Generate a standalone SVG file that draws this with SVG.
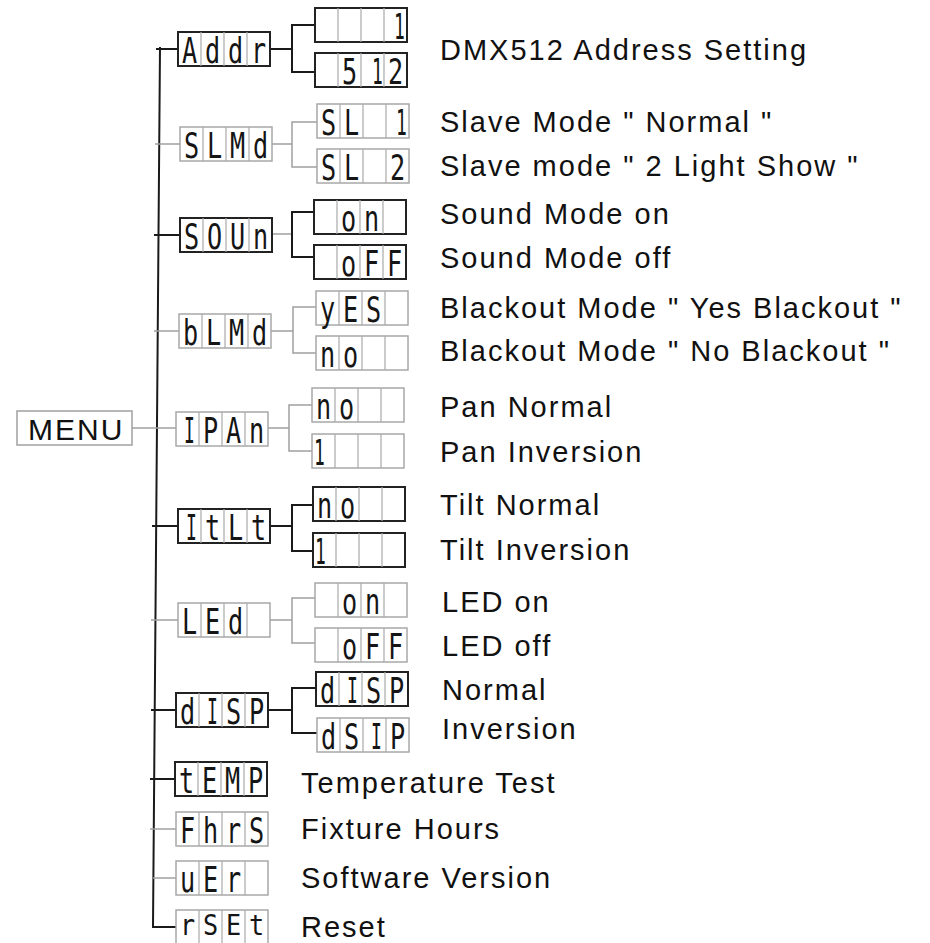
<svg xmlns="http://www.w3.org/2000/svg" xmlns:xlink="http://www.w3.org/1999/xlink" width="930" height="943" viewBox="0 0 930 943">
<style>
.bd{fill:#fff;stroke:#222;stroke-width:2}
.bl{fill:#fff;stroke:#a8a8a8;stroke-width:1.5}
.dv{stroke:#aaa;stroke-width:1.2;fill:none}
.seg{font-family:"DejaVu Sans Mono",monospace;font-size:36px;fill:#151515}
.lbl{font-family:"Liberation Sans",Arial,sans-serif;font-size:29px;fill:#111;letter-spacing:2px}
.menu{font-family:"Liberation Sans",Arial,sans-serif;font-size:30px;fill:#111;letter-spacing:2px}
.cd{stroke:#1a1a1a;stroke-width:2;fill:none}
.cl{stroke:#a0a0a0;stroke-width:1.5;fill:none}
</style>
<defs>
<path id="dv" class="dv" d="M23,0V34M46,0V34M69,0V34"/>
</defs>
<rect width="930" height="943" fill="#fff"/>
<g id="connectors">
<path class="cd" d="M160,47L153,927H176"/>
<path class="cd" d="M156,49H178"/>
<path class="cl" d="M155,144H180"/>
<path class="cd" d="M154,235H180"/>
<path class="cl" d="M154,331H179"/>
<path class="cl" d="M132,428H176"/>
<path class="cd" d="M152,526H178"/>
<path class="cl" d="M151,620H178"/>
<path class="cd" d="M151,710H176"/>
<path class="cd" d="M150,779H175"/>
<path class="cl" d="M150,829H176"/>
<path class="cl" d="M153,878H176"/>
<path class="cd" d="M270,49H292M315,25H292V72H315"/>
<path class="cl" d="M272,144H292M317,122H292V167H317"/>
<path class="cl" d="M272,234H292"/>
<path class="cd" d="M314,212H292V257H314"/>
<path class="cl" d="M271,331H293M316,307H293V353H316"/>
<path class="cl" d="M268,428H289M312,405H289V451H312"/>
<path class="cd" d="M270,526H292M313,505H292V551H313"/>
<path class="cl" d="M270,620H292M315,598H292V643H315"/>
<path class="cd" d="M268,710H292M316,688H292V733H317"/>
</g>
<g id="menu">
<rect x="17" y="411" width="115" height="34" fill="#fff" stroke="#a0a0a0" stroke-width="1.5"/>
<text class="menu" x="28" y="440">MENU</text>
</g>
<g id="n-addr" transform="translate(178,32)"><rect class="bd" width="92" height="34"/><use xlink:href="#dv"/>
<text class="seg" transform="translate(4,31) scale(0.7,1)">A</text><text class="seg" transform="translate(27,31) scale(0.7,1)">d</text><text class="seg" transform="translate(50,31) scale(0.7,1)">d</text><text class="seg" transform="translate(73,31) scale(0.7,1)">r</text></g>
<g id="n-slmd" transform="translate(180,127)"><rect class="bl" width="92" height="34"/><use xlink:href="#dv"/>
<text class="seg" transform="translate(4,31) scale(0.7,1)">S</text><text class="seg" transform="translate(27,31) scale(0.7,1)">L</text><text class="seg" transform="translate(50,31) scale(0.7,1)">M</text><text class="seg" transform="translate(73,31) scale(0.7,1)">d</text></g>
<g id="n-soun" transform="translate(180,218)"><rect class="bd" width="92" height="34"/><use xlink:href="#dv"/>
<text class="seg" transform="translate(4,31) scale(0.7,1)">S</text><text class="seg" transform="translate(27,31) scale(0.7,1)">O</text><text class="seg" transform="translate(50,31) scale(0.7,1)">U</text><text class="seg" transform="translate(73,31) scale(0.7,1)">n</text></g>
<g id="n-blmd" transform="translate(179,314)"><rect class="bl" width="92" height="34"/><use xlink:href="#dv"/>
<text class="seg" transform="translate(4,31) scale(0.7,1)">b</text><text class="seg" transform="translate(27,31) scale(0.7,1)">L</text><text class="seg" transform="translate(50,31) scale(0.7,1)">M</text><text class="seg" transform="translate(73,31) scale(0.7,1)">d</text></g>
<g id="n-ipan" transform="translate(176,412)"><rect class="bl" width="92" height="34"/><use xlink:href="#dv"/>
<text class="seg" transform="translate(8,31) scale(0.5,1)">I</text><text class="seg" transform="translate(27,31) scale(0.7,1)">P</text><text class="seg" transform="translate(50,31) scale(0.7,1)">A</text><text class="seg" transform="translate(73,31) scale(0.7,1)">n</text></g>
<g id="n-itlt" transform="translate(178,509)"><rect class="bd" width="92" height="34"/><use xlink:href="#dv"/>
<text class="seg" transform="translate(8,31) scale(0.5,1)">I</text><text class="seg" transform="translate(27,31) scale(0.7,1)">t</text><text class="seg" transform="translate(50,31) scale(0.7,1)">L</text><text class="seg" transform="translate(73,31) scale(0.7,1)">t</text></g>
<g id="n-led" transform="translate(178,603)"><rect class="bl" width="92" height="34"/><use xlink:href="#dv"/>
<text class="seg" transform="translate(4,31) scale(0.7,1)">L</text><text class="seg" transform="translate(27,31) scale(0.7,1)">E</text><text class="seg" transform="translate(50,31) scale(0.7,1)">d</text></g>
<g id="n-disp" transform="translate(176,693)"><rect class="bd" width="92" height="34"/><use xlink:href="#dv"/>
<text class="seg" transform="translate(4,31) scale(0.7,1)">d</text><text class="seg" transform="translate(31,31) scale(0.5,1)">I</text><text class="seg" transform="translate(50,31) scale(0.7,1)">S</text><text class="seg" transform="translate(73,31) scale(0.7,1)">P</text></g>
<g id="n-temp" transform="translate(175,762)"><rect class="bd" width="92" height="34"/><use xlink:href="#dv"/>
<text class="seg" transform="translate(4,31) scale(0.7,1)">t</text><text class="seg" transform="translate(27,31) scale(0.7,1)">E</text><text class="seg" transform="translate(50,31) scale(0.7,1)">M</text><text class="seg" transform="translate(73,31) scale(0.7,1)">P</text></g>
<g id="n-fhrs" transform="translate(176,812)"><rect class="bl" width="92" height="34"/><use xlink:href="#dv"/>
<text class="seg" transform="translate(4,31) scale(0.7,1)">F</text><text class="seg" transform="translate(27,31) scale(0.7,1)">h</text><text class="seg" transform="translate(50,31) scale(0.7,1)">r</text><text class="seg" transform="translate(73,31) scale(0.7,1)">S</text></g>
<g id="n-uer" transform="translate(176,861)"><rect class="bl" width="92" height="34"/><use xlink:href="#dv"/>
<text class="seg" transform="translate(4,31) scale(0.7,1)">u</text><text class="seg" transform="translate(27,31) scale(0.7,1)">E</text><text class="seg" transform="translate(50,31) scale(0.7,1)">r</text></g>
<g id="n-rset" transform="translate(176,910)"><rect class="bl" width="92" height="34"/><use xlink:href="#dv"/>
<text class="seg" transform="translate(4,25) scale(0.7,0.8)">r</text><text class="seg" transform="translate(27,25) scale(0.7,0.8)">S</text><text class="seg" transform="translate(50,25) scale(0.7,0.8)">E</text><text class="seg" transform="translate(73,25) scale(0.7,0.8)">t</text></g>
<g id="n-addr-1" transform="translate(315,8)"><rect class="bd" width="92" height="34"/><use xlink:href="#dv"/>
<text class="seg" transform="translate(79,31) scale(0.5,1)">1</text></g>
<g id="n-addr-512" transform="translate(315,53)"><rect class="bd" width="92" height="34"/><use xlink:href="#dv"/>
<text class="seg" transform="translate(27,31) scale(0.7,1)">5</text><text class="seg" transform="translate(57,31) scale(0.5,1)">1</text><text class="seg" transform="translate(73,31) scale(0.7,1)">2</text></g>
<g id="n-sl1" transform="translate(317,104)"><rect class="bl" width="92" height="34"/><use xlink:href="#dv"/>
<text class="seg" transform="translate(4,31) scale(0.7,1)">S</text><text class="seg" transform="translate(27,31) scale(0.7,1)">L</text><text class="seg" transform="translate(79,31) scale(0.5,1)">1</text></g>
<g id="n-sl2" transform="translate(317,149)"><rect class="bl" width="92" height="34"/><use xlink:href="#dv"/>
<text class="seg" transform="translate(4,31) scale(0.7,1)">S</text><text class="seg" transform="translate(27,31) scale(0.7,1)">L</text><text class="seg" transform="translate(73,31) scale(0.7,1)">2</text></g>
<g id="n-son" transform="translate(314,200)"><rect class="bd" width="92" height="34"/><use xlink:href="#dv"/>
<text class="seg" transform="translate(27,31) scale(0.7,1)">o</text><text class="seg" transform="translate(50,31) scale(0.7,1)">n</text></g>
<g id="n-soff" transform="translate(314,245)"><rect class="bd" width="92" height="34"/><use xlink:href="#dv"/>
<text class="seg" transform="translate(27,31) scale(0.7,1)">o</text><text class="seg" transform="translate(50,31) scale(0.7,1)">F</text><text class="seg" transform="translate(73,31) scale(0.7,1)">F</text></g>
<g id="n-byes" transform="translate(316,291)"><rect class="bl" width="92" height="34"/><use xlink:href="#dv"/>
<text class="seg" transform="translate(4,31) scale(0.7,1)">y</text><text class="seg" transform="translate(27,31) scale(0.7,1)">E</text><text class="seg" transform="translate(50,31) scale(0.7,1)">S</text></g>
<g id="n-bno" transform="translate(316,336)"><rect class="bl" width="92" height="34"/><use xlink:href="#dv"/>
<text class="seg" transform="translate(4,31) scale(0.7,1)">n</text><text class="seg" transform="translate(27,31) scale(0.7,1)">o</text></g>
<g id="n-pno" transform="translate(312,388)"><rect class="bl" width="92" height="34"/><use xlink:href="#dv"/>
<text class="seg" transform="translate(4,31) scale(0.7,1)">n</text><text class="seg" transform="translate(27,31) scale(0.7,1)">o</text></g>
<g id="n-p1" transform="translate(312,434)"><rect class="bl" width="92" height="34"/><use xlink:href="#dv"/>
<text class="seg" transform="translate(2,31) scale(0.5,1)">1</text></g>
<g id="n-tno" transform="translate(313,487)"><rect class="bd" width="92" height="34"/><use xlink:href="#dv"/>
<text class="seg" transform="translate(4,31) scale(0.7,1)">n</text><text class="seg" transform="translate(27,31) scale(0.7,1)">o</text></g>
<g id="n-t1" transform="translate(313,533)"><rect class="bd" width="92" height="34"/><use xlink:href="#dv"/>
<text class="seg" transform="translate(2,31) scale(0.5,1)">1</text></g>
<g id="n-lon" transform="translate(315,583)"><rect class="bl" width="92" height="34"/><use xlink:href="#dv"/>
<text class="seg" transform="translate(27,31) scale(0.7,1)">o</text><text class="seg" transform="translate(50,31) scale(0.7,1)">n</text></g>
<g id="n-loff" transform="translate(315,628)"><rect class="bl" width="92" height="34"/><use xlink:href="#dv"/>
<text class="seg" transform="translate(27,31) scale(0.7,1)">o</text><text class="seg" transform="translate(50,31) scale(0.7,1)">F</text><text class="seg" transform="translate(73,31) scale(0.7,1)">F</text></g>
<g id="n-dnorm" transform="translate(316,672)"><rect class="bd" width="92" height="34"/><use xlink:href="#dv"/>
<text class="seg" transform="translate(4,31) scale(0.7,1)">d</text><text class="seg" transform="translate(31,31) scale(0.5,1)">I</text><text class="seg" transform="translate(50,31) scale(0.7,1)">S</text><text class="seg" transform="translate(73,31) scale(0.7,1)">P</text></g>
<g id="n-dinv" transform="translate(317,718)"><rect class="bl" width="92" height="34"/><use xlink:href="#dv"/>
<text class="seg" transform="translate(4,31) scale(0.7,1)">d</text><text class="seg" transform="translate(27,31) scale(0.7,1)">S</text><text class="seg" transform="translate(54,31) scale(0.5,1)">I</text><text class="seg" transform="translate(73,31) scale(0.7,1)">P</text></g>
<g id="labels">
<text class="lbl" x="440" y="60">DMX512 Address Setting</text>
<text class="lbl" x="440" y="132">Slave Mode " Normal "</text>
<text class="lbl" x="440" y="176">Slave mode " 2 Light Show "</text>
<text class="lbl" x="440" y="224">Sound Mode on</text>
<text class="lbl" x="440" y="268">Sound Mode off</text>
<text class="lbl" x="440" y="318">Blackout Mode " Yes Blackout "</text>
<text class="lbl" x="440" y="361">Blackout Mode " No Blackout "</text>
<text class="lbl" x="440" y="417">Pan Normal</text>
<text class="lbl" x="440" y="462">Pan Inversion</text>
<text class="lbl" x="440" y="515">Tilt Normal</text>
<text class="lbl" x="440" y="560">Tilt Inversion</text>
<text class="lbl" x="442" y="612">LED on</text>
<text class="lbl" x="442" y="656">LED off</text>
<text class="lbl" x="442" y="700">Normal</text>
<text class="lbl" x="442" y="739">Inversion</text>
<text class="lbl" x="301" y="793">Temperature Test</text>
<text class="lbl" x="301" y="839">Fixture Hours</text>
<text class="lbl" x="301" y="888">Software Version</text>
<text class="lbl" x="301" y="937">Reset</text>
</g>
</svg>
